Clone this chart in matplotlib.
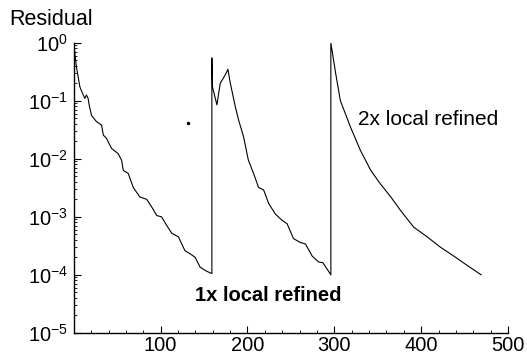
import matplotlib
matplotlib.use("Agg")
import matplotlib.pyplot as plt
from matplotlib.ticker import LogLocator, MultipleLocator, NullFormatter

plt.rcParams['font.family'] = ['Liberation Sans', 'DejaVu Sans']
plt.rcParams['mathtext.fontset'] = 'custom'
plt.rcParams['mathtext.rm'] = 'Liberation Sans'
plt.rcParams['mathtext.it'] = 'Liberation Sans:italic'
plt.rcParams['mathtext.bf'] = 'Liberation Sans:bold'

# residual history
# base grid
iters_0 = [0, 3, 7, 10, 12.7, 14.6, 16.5, 17.7, 20.4, 26, 32, 34, 37.7, 43.5,
           51, 55, 57, 62.7, 68.5, 76, 84, 89.7, 95.5, 101, 107, 112.8,
           120.5, 128, 134, 139.7, 145.5, 153, 159]
resid_0 = [0.93, 0.39, 0.174, 0.135, 0.11, 0.126, 0.11, 0.085, 0.056, 0.044,
           0.038, 0.0257, 0.0224, 0.0151, 0.0123, 0.0095, 0.0063, 0.0056,
           0.0032, 0.0022, 0.002, 0.00148, 0.00105, 0.001, 0.00071, 0.00052,
           0.00045, 0.00026, 0.00023, 0.0002, 0.000135, 0.000115, 0.000105]
# 1x local refined
iters_1 = [159, 159.7, 164.8, 168.6, 174.4, 177.5, 180, 186, 189.7, 195.5,
           201, 207, 212.8, 218.6, 224.4, 232, 239.8, 245.6, 253, 261, 266.7,
           274.5, 282, 286.7, 296]
resid_1 = [0.55, 0.174, 0.085, 0.2, 0.28, 0.35, 0.21, 0.079, 0.047, 0.024,
           0.0095, 0.0056, 0.0032, 0.0029, 0.0017, 0.00112, 0.00087, 0.00076,
           0.00042, 0.00036, 0.00034, 0.00021, 0.000166, 0.000162, 0.0001]
# 2x local refined
iters_2 = [296, 301.5, 307, 318.7, 330, 342, 353, 365, 376, 391.5, 407, 422,
           437.6, 453, 469]
resid_2 = [1.0, 0.3, 0.10, 0.035, 0.014, 0.0063, 0.0037, 0.0022, 0.0013,
           0.00066, 0.00045, 0.0003, 0.00021, 0.000145, 0.0001]

stray_x = [131]
stray_y = [0.041]

fig = plt.figure(figsize=(5.27, 3.54), dpi=100)
ax = fig.add_axes([0.140, 0.060, 0.824, 0.819])

ax.plot(iters_0 + iters_1 + iters_2, resid_0 + resid_1 + resid_2,
        color='black', linewidth=0.8)
ax.plot(stray_x, stray_y, 'o', color='black', markersize=1.5)

ax.set_yscale('log')
ax.set_ylim(1e-5, 1e0)
ax.set_xlim(0, 500)
ax.set_xticks([100, 200, 300, 400, 500])
ax.xaxis.set_minor_locator(MultipleLocator(20))
ax.yaxis.set_major_locator(LogLocator(base=10, numticks=10))
ax.yaxis.set_minor_locator(LogLocator(base=10, subs=range(2, 10), numticks=20))
ax.yaxis.set_minor_formatter(NullFormatter())

for s in ['top', 'right']:
    ax.spines[s].set_visible(False)
ax.spines['left'].set_linewidth(1.0)
ax.spines['bottom'].set_linewidth(1.0)
ax.tick_params(which='both', direction='in', labelsize=14.5, colors='black')
ax.tick_params(which='major', length=5, width=0.8)
ax.tick_params(which='minor', length=2.5, width=0.6)
ax.tick_params(axis='y', pad=4)
ax.tick_params(axis='x', pad=2)

fig.text(0.018, 0.944, 'Residual', fontsize=15.5, va='center', ha='left')
ax.text(140, 4.4e-5, '1x local refined', fontsize=14.5,
        fontweight='bold', ha='left', va='center')
ax.text(327, 0.047, '2x local refined', fontsize=15, ha='left', va='center')

fig.savefig('out.png', dpi=100)
